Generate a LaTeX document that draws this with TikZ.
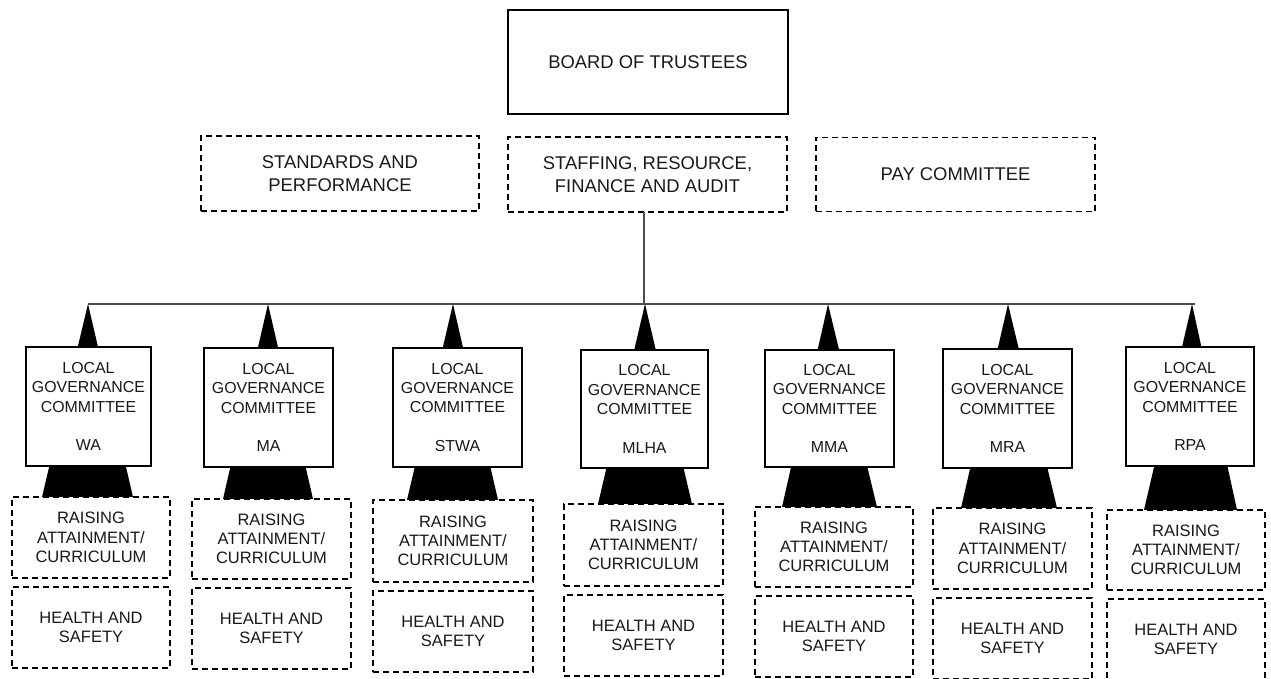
\documentclass[tikz,border=0pt]{standalone}
\usepackage{fontspec}
\setmainfont{Liberation Sans}
\usetikzlibrary{calc}
\tikzset{
  solidbox/.style={draw, line width=1.5pt, fill=white, inner sep=0pt, outer sep=0pt, align=center, text=black!90},
  dashbox/.style={draw, line width=1.6pt, dash pattern=on 6pt off 4pt, fill=white, inner sep=0pt, outer sep=0pt, align=center, text=black!90},
  topfont/.style={font=\fontsize{18.4}{22.5}\selectfont},
  lgcfont/.style={font=\fontsize{15.9}{19.4}\selectfont},
  subfont/.style={font=\fontsize{16.5}{19.2}\selectfont},
  link/.style={draw=black!70, line width=1.1pt},
  tree/.style={fill=black},
}
\begin{document}
\begin{tikzpicture}[x=1pt,y=-1pt]
\useasboundingbox (0,0) rectangle (1271,679);

% top level
\node[solidbox,topfont,minimum width=280pt,minimum height=104pt] (board) at (648,62) {BOARD OF TRUSTEES};
\node[dashbox,topfont,minimum width=278pt,minimum height=75pt] (std) at (340,173.5) {STANDARDS AND\\PERFORMANCE};
\node[dashbox,topfont,minimum width=279pt,minimum height=75pt] (staff) at (647.5,174.5) {STAFFING, RESOURCE,\\FINANCE AND AUDIT};
\node[dashbox,topfont,minimum width=279pt,minimum height=74pt] (pay) at (955.5,174.5) {PAY COMMITTEE};

% connectors
\coordinate (hub) at (644,304);
\coordinate (lineL) at (88,304);
\coordinate (lineR) at (1195,304);
\draw[link] (staff.south -| hub) -- (hub);
\draw[link] (lineL) -- (lineR);

% columns
\foreach \n/\lab/\ax/\bl/\br/\bt/\bb/\tc/\th/\rl/\rr/\rt/\rb in {
  1/WA/88/26/151/347/466/87.5/45.5/12/170/497/578,
  2/MA/268/204/333/348/467/268/45/192/351/499/579,
  3/STWA/453/393/522/348/467/452.5/45.5/373/533/500/582,
  4/MLHA/645/581/708/350/468/645/47/564/723/504/586,
  5/MMA/828/765/894/350/467/829.5/47.5/755/913/507/587,
  6/MRA/1008/943/1072/349/468/1009/48/933/1092/508/589,
  7/RPA/1192/1126/1254/347/466/1190.5/46.5/1107/1265/510/590}{
  \coordinate (apex\n) at (\ax,304);
  \fill[tree] (apex\n) -- ({\tc-\th},\rt) -- ({\tc+\th},\rt) -- cycle;
  \node[solidbox,lgcfont,minimum width={\br-\bl},minimum height={\bb-\bt}] (lgc\n)
    at ({(\bl+\br)/2},{(\bt+\bb)/2}) {LOCAL\\GOVERNANCE\\COMMITTEE\\[19.4pt]\lab};
  \node[dashbox,subfont,minimum width={\rr-\rl},minimum height={\rb-\rt}] (ra\n)
    at ({(\rl+\rr)/2},{(\rt+\rb)/2}) {RAISING\\ATTAINMENT/\\CURRICULUM};
  \node[dashbox,subfont,minimum width={\rr-\rl},minimum height=81pt] (hs\n)
    at ({(\rl+\rr)/2},{\rb+9+40.5}) {HEALTH AND\\SAFETY};
}
\end{tikzpicture}
\end{document}
